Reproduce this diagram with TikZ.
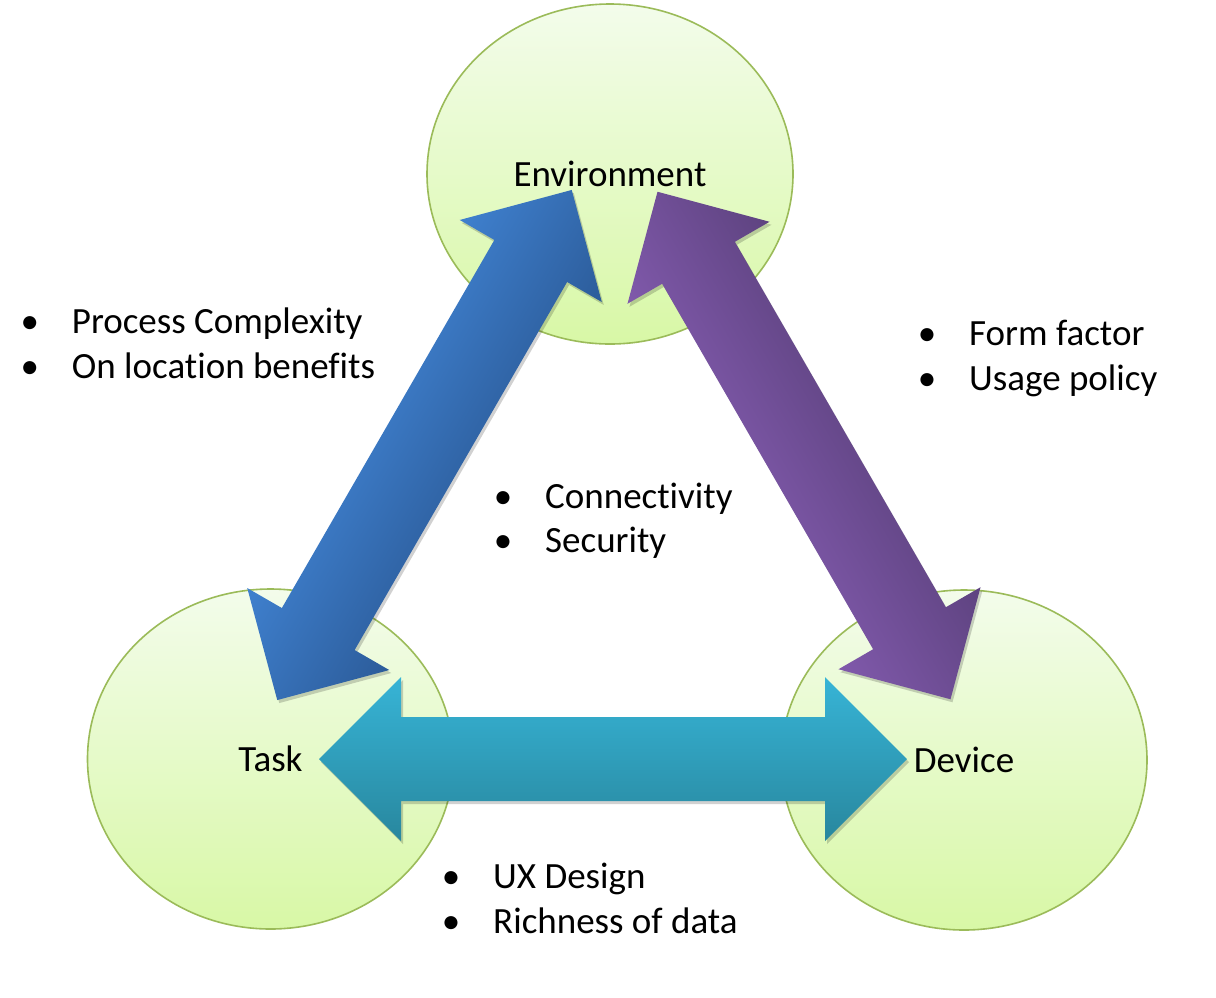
\documentclass[tikz,border=0pt]{standalone}
\usepackage{fontspec}
\setmainfont{Carlito}[Ligatures=NoCommon]
\usetikzlibrary{shapes.geometric,calc}
\definecolor{circtop}{HTML}{F3FCEB}
\definecolor{circbot}{HTML}{D8F8A6}
\definecolor{circline}{HTML}{9BBB59}
\definecolor{bluel}{HTML}{3F80CE}
\definecolor{blued}{HTML}{2C5C9A}
\definecolor{purl}{HTML}{8059AB}
\definecolor{purd}{HTML}{5E4380}
\definecolor{cyanl}{HTML}{37B4D6}
\definecolor{cyand}{HTML}{28879E}
\newcommand\bigfont{\fontsize{37}{44}\selectfont}
% #1 centre coordinate, #2 angle, #3 light colour, #4 dark colour, #5 half length
\newcommand\blockarrow[5]{%
  \begin{scope}[transform canvas={shift={($(#1)+(2,3)$)}, rotate=#2}]
    \fill[black, opacity=0.18]
      (-#5,0) -- (-#5+82,82) -- (-#5+82,42) -- (#5-82,42) -- (#5-82,82) -- (#5,0)
      -- (#5-82,-82) -- (#5-82,-42) -- (-#5+82,-42) -- (-#5+82,-82) -- cycle;
  \end{scope}
  \begin{scope}[transform canvas={shift={(#1)}, rotate=#2}]
    \shade[top color=#3, bottom color=#4]
      (-#5,0) -- (-#5+82,82) -- (-#5+82,42) -- (#5-82,42) -- (#5-82,82) -- (#5,0)
      -- (#5-82,-82) -- (#5-82,-42) -- (-#5+82,-42) -- (-#5+82,-82) -- cycle;
  \end{scope}}
\tikzset{
  bubble/.style={ellipse, draw=circline, line width=1.6, top color=circtop,
    bottom color=circbot, minimum width=366, minimum height=340, inner sep=0,
    font=\bigfont, text=black},
  listline/.style={anchor=base west, inner sep=0, font=\bigfont, text=black},
}
\newcommand\itm[1]{\makebox[0pt]{\textbullet}\hspace*{42pt}#1}
\begin{document}
\begin{tikzpicture}[x=1pt,y=-1pt]
  \fill[white] (0,0) rectangle (1216,997);
  \useasboundingbox (0,0) rectangle (1216,997);

  \node[bubble] (env)  at (610,174)   {Environment};
  \node[bubble] (task) at (270.5,759) {Task};
  \node[bubble] (dev)  at (964,760)   {Device};

  \coordinate (envtask) at (424.5,445);
  \coordinate (envdev)  at (804,445.5);
  \coordinate (taskdev) at (613,759);

  \blockarrow{envtask}{60}{bluel}{blued}{294.5}
  \blockarrow{envdev}{120}{purl}{purd}{293}
  \blockarrow{taskdev}{0}{cyanl}{cyand}{294}

  \node[listline] (l1) at (29.7,333) {\itm{Process Complexity}};
  \node[listline] (l2) at (29.7,378) {\itm{On location benefits}};
  \node[listline] (r1) at (927,345)  {\itm{Form factor}};
  \node[listline] (r2) at (927,390)  {\itm{Usage policy}};
  \node[listline] (c1) at (503,508)  {\itm{Connectivity}};
  \node[listline] (c2) at (503,552)  {\itm{Security}};
  \node[listline] (b1) at (451,888)  {\itm{UX Design}};
  \node[listline] (b2) at (451,933)  {\itm{Richness of data}};
\end{tikzpicture}
\end{document}
